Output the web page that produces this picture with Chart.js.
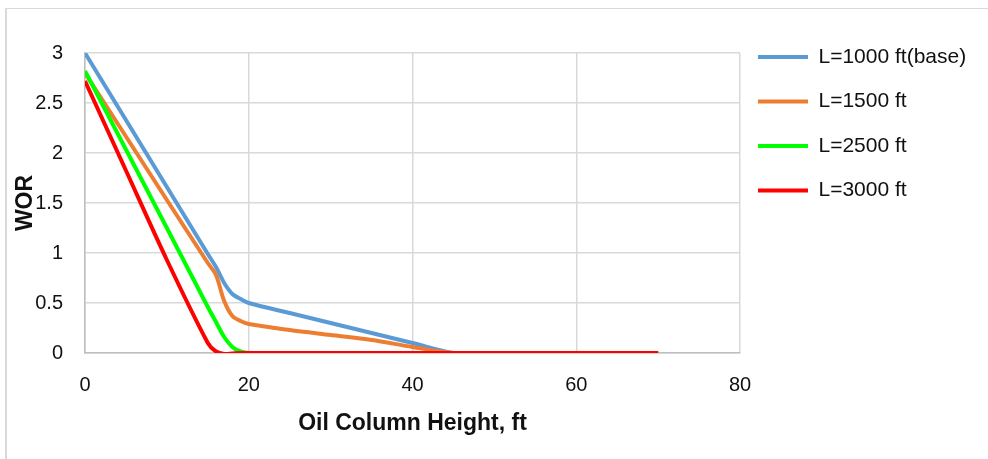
<!DOCTYPE html>
<html>
<head>
<meta charset="utf-8">
<script src="https://cdn.jsdelivr.net/npm/chart.js@4/dist/chart.umd.min.js"></script>
<style>
  html, body { margin: 0; padding: 0; background: #fff; }
  #frame {
    position: absolute; left: 5px; top: 8px; width: 1000px; height: 470px;
    border-left: 2px solid #d9d9d9; border-top: 1px solid #d9d9d9;
  }
  #wrap { position: absolute; left: 0; top: 0; width: 988px; height: 459px; }
</style>
</head>
<body>
<div id="frame"></div>
<div id="wrap"><canvas id="myChart" width="988" height="459"></canvas></div>
<script>
// oil column height, ft
const xValues = [0, 5, 10, 15, 16, 17, 18, 19, 20, 25, 30, 35, 40, 45, 50, 60, 70];

// WOR for each well length
const wor1000 = [3, 2.33, 1.66, 0.99, 0.86, 0.7, 0.59, 0.54, 0.5, 0.4, 0.3, 0.2, 0.1, 0, 0, 0, 0];
const wor1500 = [2.8, 2.165, 1.53, 0.9, 0.78, 0.52, 0.37, 0.32, 0.29, 0.23, 0.18, 0.13, 0.06, 0, 0, 0, 0];
const wor2500 = [2.82, 2.035, 1.25, 0.46, 0.31, 0.16, 0.06, 0.015, 0, 0, 0, 0, 0, 0, 0, 0, 0];
const wor3000 = [2.72, 1.825, 0.93, 0.1, 0.015, -0.01, -0.005, 0, 0, 0, 0, 0, 0, 0, 0, 0, 0];

const seriesNames = ["L=1000 ft(base)", "L=1500 ft", "L=2500 ft", "L=3000 ft"];
const seriesColors = ["#5b9bd5", "#ed7d31", "#00ff00", "#ff0000"];
const yTicks = [0, 0.5, 1, 1.5, 2, 2.5, 3];
const xTicks = [0, 20, 40, 60, 80];

const fontName = "'Liberation Sans', Arial, sans-serif";

function toPoints(ys) {
  return xValues.map(function (x, i) {
    return { x: x, y: ys[i] };
  });
}

const allY = [wor1000, wor1500, wor2500, wor3000];

const datasets = allY.map(function (ys, i) {
  return {
    label: seriesNames[i],
    data: toPoints(ys),
    borderColor: seriesColors[i],
    backgroundColor: seriesColors[i],
    borderWidth: 4,
    pointRadius: 0,
    tension: 0.3,
    order: 4 - i, // red on top
  };
});

// legend: fixed width, nudged left a bit like the original
const legendFix = {
  id: "legendFix",
  beforeLayout(chart) {
    const lg = chart.legend;
    if (lg && !lg._fixed) {
      const fit = lg.fit;
      lg.fit = function () {
        fit.call(this);
        this.width = 248;
      };
      lg._fixed = true;
    }
  },
  afterLayout(chart) {
    chart.legend.left -= 5.5;
    chart.legend.right -= 5.5;
  },
};

const config = {
  type: "line",
  data: { datasets: datasets },
  options: {
    responsive: false,
    animation: false,
    layout: { padding: { top: 23, left: 0, right: 0, bottom: 0 } },
    scales: {
      x: {
        type: "linear",
        min: 0,
        max: 80,
        afterBuildTicks(scale) {
          scale.ticks = xTicks.map(function (v) { return { value: v }; });
        },
        afterFit(scale) {
          scale.height = 106;
        },
        grid: { color: "#d9d9d9", lineWidth: 1.5, drawTicks: false },
        border: { color: "#bfbfbf", width: 1.5 },
        ticks: {
          padding: 20,
          color: "#111",
          font: { family: fontName, size: 20 },
          callback: function (v) { return String(v); },
        },
        title: {
          display: true,
          text: "Oil Column Height, ft",
          color: "#111",
          font: { family: fontName, size: 23, weight: "bold" },
          padding: { top: 0, bottom: 22 },
        },
      },
      y: {
        min: 0,
        max: 3,
        afterBuildTicks(scale) {
          scale.ticks = yTicks.map(function (v) { return { value: v }; });
        },
        afterFit(scale) {
          scale.width = 85;
        },
        grid: { color: "#d9d9d9", lineWidth: 1.5, drawTicks: false },
        border: { color: "#bfbfbf", width: 1.5 },
        ticks: {
          padding: 22,
          color: "#111",
          font: { family: fontName, size: 20 },
          callback: function (v) { return String(v); },
        },
        title: {
          display: true,
          text: "WOR",
          color: "#111",
          font: { family: fontName, size: 23, weight: "bold" },
          padding: { top: 12, bottom: 0 },
        },
      },
    },
    plugins: {
      title: {
        display: true,
        text: "",
        fullSize: false,
        font: { size: 10, lineHeight: 1 },
        padding: { top: 20, bottom: 0 },
      },
      legend: {
        display: true,
        position: "right",
        align: "start",
        labels: {
          usePointStyle: true,
          pointStyle: "line",
          pointStyleWidth: 50,
          padding: 23.5,
          color: "#111",
          font: { family: fontName, size: 21 },
          sort: function (a, b) { return a.datasetIndex - b.datasetIndex; },
        },
      },
      tooltip: { enabled: false },
    },
  },
  plugins: [legendFix],
};

const myChart = new Chart(document.getElementById("myChart"), config);
</script>
</body>
</html>
